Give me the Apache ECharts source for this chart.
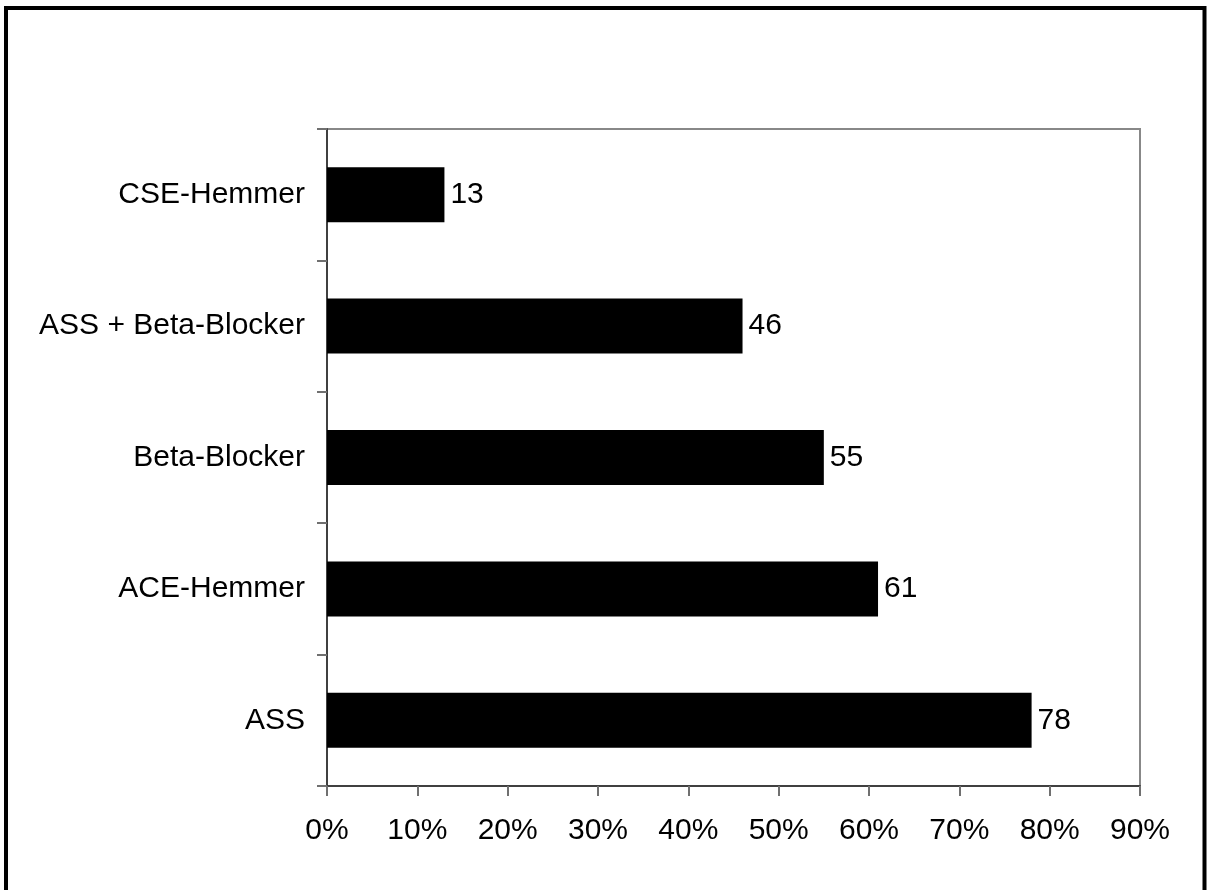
<!DOCTYPE html>
<html>
<head>
<meta charset="utf-8">
<script src="https://cdn.jsdelivr.net/npm/echarts@6/dist/echarts.min.js"></script>
<style>
  html, body { margin: 0; padding: 0; background: #fff; }
  #chart { width: 1209px; height: 890px; }
</style>
</head>
<body>
<div id="chart"></div>
<script>
// Therapy categories, listed bottom to top
const categories = ['ASS', 'ACE-Hemmer', 'Beta-Blocker', 'ASS + Beta-Blocker', 'CSE-Hemmer'];
// Share of patients (%)
const values = [78, 61, 55, 46, 13];
// Percent axis range and step
const axisMin = 0;
const axisMax = 90;
const axisStep = 10;

const FONT = '"Liberation Sans", Arial, sans-serif';
const FONT_SIZE = 30;

const chart = echarts.init(document.getElementById('chart'), null, { renderer: 'canvas' });

chart.setOption({
  backgroundColor: '#ffffff',
  animation: false,
  textStyle: { fontFamily: FONT },
  graphic: [
    {
      // outer frame (bottom edge runs past the canvas)
      type: 'rect',
      shape: { x: 6, y: 8, width: 1198.5, height: 900 },
      style: { fill: 'none', stroke: '#000', lineWidth: 4 },
      silent: true
    }
  ],
  grid: {
    left: 327,
    top: 129,
    right: 69,
    bottom: 104,
    show: true,
    borderColor: '#888888',
    borderWidth: 2,
    containLabel: false
  },
  xAxis: {
    type: 'value',
    min: axisMin,
    max: axisMax,
    interval: axisStep,
    axisLine: { show: true, lineStyle: { color: '#404040', width: 2 } },
    axisTick: { show: true, length: 10, lineStyle: { color: '#707070', width: 2 } },
    splitLine: { show: false },
    axisLabel: {
      formatter: '{value}%',
      color: '#000',
      fontSize: FONT_SIZE,
      fontFamily: FONT,
      margin: 30
    }
  },
  yAxis: {
    type: 'category',
    data: categories,
    boundaryGap: true,
    axisLine: { show: true, lineStyle: { color: '#404040', width: 2 } },
    axisTick: { show: true, length: 10, alignWithLabel: false, lineStyle: { color: '#707070', width: 2 } },
    axisLabel: {
      color: '#000',
      fontSize: FONT_SIZE,
      fontFamily: FONT,
      margin: 22
    }
  },
  series: [
    {
      type: 'bar',
      data: values,
      barWidth: 55,
      itemStyle: { color: '#000000' },
      label: {
        show: true,
        position: 'right',
        distance: 6,
        color: '#000',
        fontSize: FONT_SIZE,
        fontFamily: FONT
      }
    }
  ]
});
</script>
</body>
</html>
